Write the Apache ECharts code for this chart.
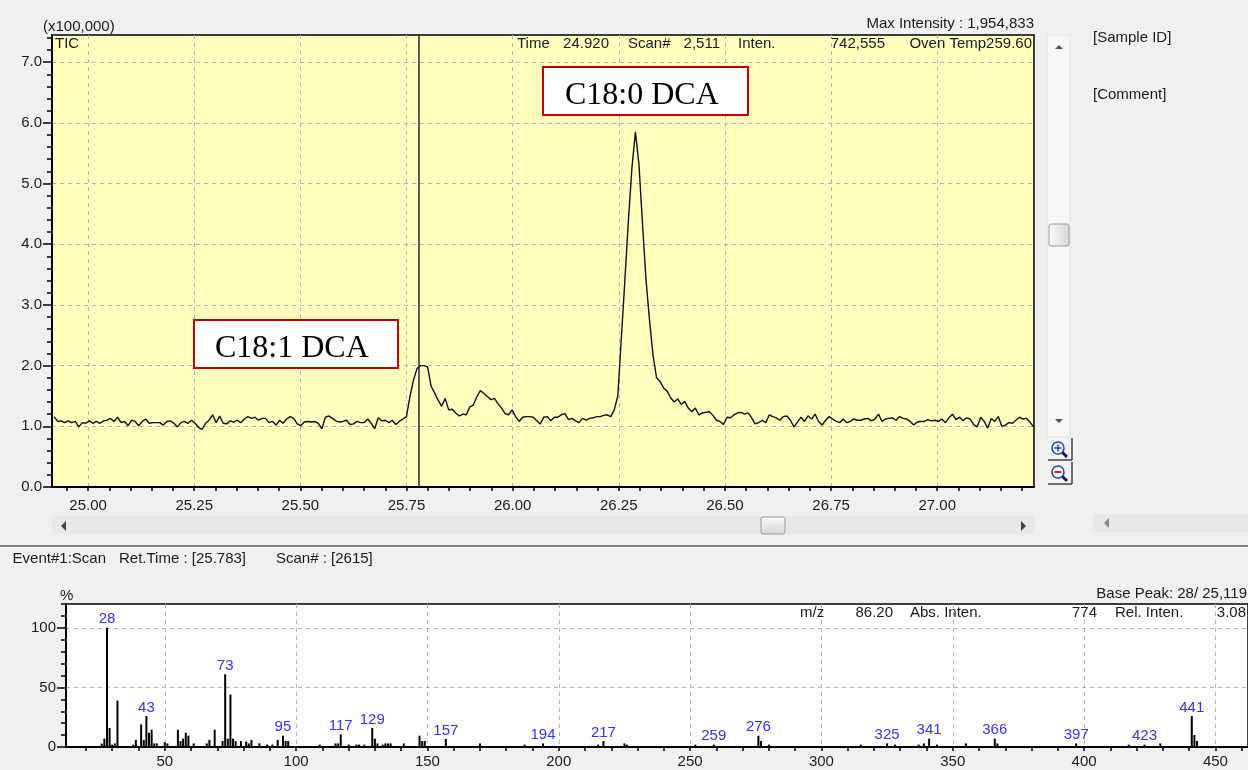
<!DOCTYPE html>
<html>
<head>
<meta charset="utf-8">
<script src="https://cdn.jsdelivr.net/npm/echarts@6/dist/echarts.min.js"></script>
<style>
  html, body { margin: 0; padding: 0; background: #f0f0f0; }
  #chart { width: 1248px; height: 770px; }
</style>
</head>
<body>
<div id="chart"></div>
<script>
// ---- TIC chromatogram: one reading per scan, intensity in units of 100,000 ----
const ticFirstScan = 2511;
const ticFirstTime = 24.920;       // min, retention time of ticFirstScan
const ticScanInterval = 0.008298;  // min between scans
const ticIntensity = [
  1.16, 1.08, 1.09, 1.06, 1.09, 1.06, 1.08, 0.99, 1.06, 1.05,
  1.09, 1.05, 1.08, 1.05, 1.09, 1.10, 1.13, 1.08, 1.15, 1.06,
  1.08, 1.01, 1.10, 1.08, 1.01, 1.08, 1.12, 1.05, 1.06, 1.06,
  1.06, 1.02, 1.08, 1.09, 1.05, 0.99, 1.06, 1.08, 1.05, 1.10,
  1.05, 0.98, 0.95, 1.05, 1.10, 1.19, 1.06, 1.17, 1.05, 1.04,
  1.09, 1.07, 1.10, 1.06, 1.12, 1.16, 1.13, 1.15, 1.10, 1.13,
  1.13, 1.06, 1.08, 1.02, 1.10, 1.05, 1.12, 1.16, 1.13, 1.04,
  1.01, 1.07, 1.08, 1.07, 1.08, 1.05, 0.96, 1.15, 1.17, 1.13,
  1.09, 1.07, 1.08, 1.10, 1.03, 1.04, 1.08, 1.06, 1.06, 1.12,
  1.05, 0.96, 1.14, 1.09, 1.10, 1.06, 1.10, 1.03, 1.08, 1.12,
  1.16, 1.49, 1.76, 1.95, 2.00, 2.00, 1.98, 1.66, 1.55, 1.43,
  1.33, 1.46, 1.27, 1.28, 1.22, 1.17, 1.20, 1.19, 1.32, 1.35,
  1.49, 1.59, 1.54, 1.49, 1.44, 1.46, 1.37, 1.30, 1.21, 1.19,
  1.27, 1.16, 1.08, 1.15, 1.16, 1.16, 1.15, 1.09, 1.04, 1.15,
  1.16, 1.09, 1.15, 1.15, 1.19, 1.21, 1.11, 1.13, 1.09, 1.06,
  1.13, 1.10, 1.13, 1.14, 1.16, 1.16, 1.18, 1.19, 1.16, 1.27,
  1.50, 2.45, 3.40, 4.38, 5.25, 5.85, 5.32, 4.35, 3.42, 2.75,
  2.17, 1.80, 1.74, 1.63, 1.58, 1.47, 1.40, 1.45, 1.36, 1.41,
  1.30, 1.24, 1.30, 1.19, 1.22, 1.23, 1.24, 1.18, 1.10, 1.08,
  1.03, 1.15, 1.14, 1.19, 1.22, 1.23, 1.20, 1.22, 1.14, 1.04,
  1.06, 1.10, 1.06, 1.19, 1.16, 1.14, 1.10, 1.16, 1.17, 1.10,
  0.99, 1.07, 1.15, 1.08, 1.17, 1.12, 1.20, 1.08, 1.02, 1.10,
  1.16, 1.12, 1.08, 1.06, 1.12, 1.06, 1.08, 1.12, 1.10, 1.10,
  1.12, 1.13, 1.09, 1.12, 1.20, 1.08, 1.12, 1.13, 1.14, 1.10,
  1.16, 1.13, 1.12, 1.08, 1.02, 1.07, 1.08, 1.08, 1.11, 1.09,
  1.10, 1.08, 1.12, 1.06, 1.14, 1.20, 1.11, 1.15, 1.09, 1.14,
  1.12, 1.03, 0.99, 1.15, 1.08, 0.97, 1.13, 1.08, 1.16, 1.00,
  1.02, 1.06, 1.05, 1.10, 1.15, 1.12, 1.13, 1.07, 0.99
];
const ticTimeTicks = [25.00, 25.25, 25.50, 25.75, 26.00, 26.25, 26.50, 26.75, 27.00];
const ticIntensityTicks = [0, 1, 2, 3, 4, 5, 6, 7];
const cursorTime = 25.783;
const cursorScan = 2615;

// ---- Mass spectrum at the cursor scan: m/z and relative intensity (%) ----
const specMz = [
  26, 27, 28, 29, 30, 31, 32, 38, 39, 41, 42, 43, 44, 45, 46, 47, 50, 51,
  55, 56, 57, 58, 59, 61, 66, 67, 69, 72, 73, 74, 75, 76, 77, 79, 81, 82, 83,
  86, 89, 91, 93, 95, 96, 97, 109, 115, 116, 117, 120, 123, 124, 126,
  129, 130, 131, 133, 134, 135, 136, 141, 147, 148, 149, 157, 170, 187,
  194, 215, 217, 225, 226, 252, 259, 276, 277, 280, 315, 325, 328, 337,
  339, 341, 344, 355, 366, 367, 397, 417, 423, 429, 441, 442, 443
];
const specRel = [
  2.8, 7, 100, 16, 2, 3, 39, 2, 6, 19, 6, 26, 12, 14.5, 3, 3, 4, 3,
  14.5, 5, 7, 12, 9.5, 3, 3, 6, 14.5, 5, 61, 7, 44, 7, 5, 5, 4.5, 3, 6,
  3.08, 2, 2, 6, 9.5, 5, 5, 2, 3, 3, 10.6, 2, 2, 2, 2,
  16, 7, 3, 2, 3, 3, 3, 3, 9.5, 5, 5, 6.7, 3, 2,
  3, 2, 5, 3, 2, 2, 2, 9.5, 5, 2, 2, 3, 2, 2,
  3, 7, 2, 3, 7, 3, 3, 2, 2, 3, 26, 10, 5
];
const specLabeledMz = [28, 43, 73, 95, 117, 129, 157, 194, 217, 259, 276, 325, 341, 366, 397, 423, 441];
const specMzTicks = [50, 100, 150, 200, 250, 300, 350, 400, 450];
const specRelTicks = [0, 50, 100];

// ---- view ranges ----
const T_MIN = 24.915, T_MAX = 27.228;
const I_MAX = 7.447;
const MZ_MIN = 12.4, MZ_MAX = 462.4;
const REL_MAX = 120;

const FONT = '"Liberation Sans", Arial, sans-serif';
const INK = '#1a1a1a';
const dashed = { type: [4, 4], color: '#b3b3b3', width: 1 };

function steps(from, to, step, digits) {
  const out = [];
  for (let k = 0; from + k * step <= to + 1e-9; k++) {
    out.push(+(from + k * step).toFixed(digits));
  }
  return out;
}
const ticMinorTime = steps(24.95, 27.20, 0.05, 2);
const ticMinorInt = steps(0.2, 7.4, 0.2, 1);
const specMinorMz = steps(20, 460, 10, 0);
const specMinorRel = steps(10, 120, 10, 0);

const ticData = ticIntensity.map((v, i) => [ticFirstTime + i * ticScanInterval, v]);
const specData = specMz.map((m, i) => {
  const item = { value: [m, specRel[i]] };
  if (specLabeledMz.indexOf(m) >= 0) {
    item.label = {
      show: true, position: 'top', distance: 1,
      color: '#3333f2', fontSize: 15, fontFamily: FONT,
      formatter: p => String(p.value[0])
    };
  }
  return item;
});

function minorAxis(grid, dim, min, max, ticks, len) {
  return {
    gridIndex: grid, type: 'value', min: min, max: max,
    position: dim === 'x' ? 'bottom' : 'left',
    axisLine: { show: true, onZero: false, lineStyle: { color: '#000', width: 2 } },
    axisTick: { show: true, length: len, customValues: ticks, lineStyle: { color: '#000', width: 1.5 } },
    axisLabel: { show: false },
    splitLine: { show: false }
  };
}
function majorAxis(grid, dim, min, max, ticks, tickLen, fmt, margin) {
  return {
    gridIndex: grid, type: 'value', min: min, max: max,
    position: dim === 'x' ? 'bottom' : 'left',
    axisLine: { show: false, onZero: false },
    axisTick: { show: tickLen > 0, length: tickLen, customValues: ticks, lineStyle: { color: '#000', width: 1.5 } },
    axisLabel: { show: true, customValues: ticks, formatter: fmt, color: INK, fontSize: 15, fontFamily: FONT, margin: margin },
    splitLine: { show: true, lineStyle: dashed }
  };
}

function txt(text, x, y, align, extra) {
  return {
    type: 'text', z: 100, silent: true,
    style: Object.assign({
      text: text, x: x, y: y, fill: INK,
      font: '15px ' + FONT,
      align: align || 'left', textAlign: align || 'left',
      verticalAlign: 'middle', textVerticalAlign: 'middle'
    }, extra || {})
  };
}
function box(x, y, w, h, fill, stroke, lw, r) {
  return { type: 'rect', z: 90, silent: true,
    shape: { x: x, y: y, width: w, height: h, r: r || 0 },
    style: { fill: fill, stroke: stroke || null, lineWidth: lw || 1 } };
}
function tri(points, fill) {
  return { type: 'polygon', z: 95, silent: true, shape: { points: points }, style: { fill: fill || '#333' } };
}
function seg(x1, y1, x2, y2, color, w, z) {
  return { type: 'line', z: z || 96, silent: true, shape: { x1: x1, y1: y1, x2: x2, y2: y2 },
    style: { stroke: color, lineWidth: w } };
}
const thumbFill = new echarts.graphic.LinearGradient(0, 0, 0, 1, [
  { offset: 0, color: '#fbfbfb' }, { offset: 1, color: '#d6d6d6' }
]);
const thumbFillH = new echarts.graphic.LinearGradient(0, 0, 1, 0, [
  { offset: 0, color: '#fbfbfb' }, { offset: 1, color: '#d6d6d6' }
]);

// zoom-in / zoom-out buttons beside the chromatogram
function magnifier(cx, cy, minus) {
  const g = [];
  g.push(box(cx - 10, cy - 10, 24, 22, '#f4f4f4', null));
  g.push(seg(cx + 14, cy - 10, cx + 14, cy + 12, '#404040', 1.5));
  g.push(seg(cx - 10, cy + 12, cx + 14, cy + 12, '#404040', 1.5));
  g.push({ type: 'circle', z: 97, silent: true, shape: { cx: cx, cy: cy, r: 6 },
    style: { fill: '#ffffff', stroke: '#2a3fc8', lineWidth: 1.6 } });
  g.push(seg(cx + 4.5, cy + 4.5, cx + 9, cy + 9, '#14206e', 3, 98));
  if (minus) {
    g.push(seg(cx - 3.5, cy, cx + 3.5, cy, '#e02222', 2, 99));
  } else {
    g.push(seg(cx - 3.5, cy, cx + 3.5, cy, '#2a3fc8', 1.6, 99));
    g.push(seg(cx, cy - 3.5, cx, cy + 3.5, '#2a3fc8', 1.6, 99));
  }
  return g;
}

const graphics = [
  // window chrome: scroll bars, zoom buttons, panel divider
  box(1047, 35, 23, 402, '#f6f6f6', '#e2e2e2'),
  tri([[1055, 49], [1063, 49], [1059, 45]], '#555'),
  tri([[1055, 419], [1063, 419], [1059, 423]], '#555'),
  box(1049, 224, 20, 22, thumbFillH, '#9a9a9a', 1, 2),
  ...magnifier(1058, 448, false),
  ...magnifier(1058, 472, true),
  box(52, 516, 982, 18, '#e8e8e8', null),
  tri([[66, 521], [66, 531], [61, 526]], '#444'),
  tri([[1021, 521], [1021, 531], [1026, 526]], '#444'),
  box(761, 517, 24, 17, thumbFill, '#9a9a9a', 1, 2),
  box(1093, 514, 160, 18, '#e8e8e8', null),
  tri([[1109, 518], [1109, 528], [1104, 523]], '#888'),
  box(0, 545, 1248, 2, '#7c7c7c', null),
  box(0, 547, 1248, 1, '#ffffff', null),

  // chromatogram header
  txt('(x100,000)', 43, 27),
  txt('Max Intensity : 1,954,833', 1034, 24, 'right'),
  txt('TIC', 55, 44),
  txt('Time', 517, 44),
  txt('24.920', 609, 44, 'right'),
  txt('Scan#', 628, 44),
  txt('2,511', 720, 44, 'right'),
  txt('Inten.', 738, 44),
  txt('742,555', 885, 44, 'right'),
  txt('Oven Temp259.60', 1032, 44, 'right'),
  txt('[Sample ID]', 1093, 38),
  txt('[Comment]', 1093, 95),

  // peak annotations
  box(543, 67, 205, 48, '#ffffff', '#c00000', 2),
  txt('C18:0 DCA', 565, 96, 'left', { font: '32px "Liberation Serif", "Times New Roman", serif', fill: '#000' }),
  box(194, 320, 204, 48, '#ffffff', '#c00000', 2),
  txt('C18:1 DCA', 215, 349, 'left', { font: '32px "Liberation Serif", "Times New Roman", serif', fill: '#000' }),

  // spectrum header
  txt('Event#1:Scan', 106, 559, 'right'),
  txt('Ret.Time : [' + cursorTime.toFixed(3) + ']', 119, 559),
  txt('Scan# : [' + cursorScan + ']', 276, 559),
  txt('%', 60, 596),
  txt('Base Peak: 28/ 25,119', 1247, 594, 'right'),
  txt('m/z', 800, 613),
  txt('86.20', 893, 613, 'right'),
  txt('Abs. Inten.', 910, 613),
  txt('774', 1097, 613, 'right'),
  txt('Rel. Inten.', 1115, 613),
  txt('3.08', 1246, 613, 'right')
];

const chart = echarts.init(document.getElementById('chart'), null, { renderer: 'canvas' });
chart.setOption({
  animation: false,
  backgroundColor: '#f0f0f0',
  grid: [
    { left: 52, top: 35, width: 982, height: 452, show: true,
      backgroundColor: '#ffffc0', borderColor: '#000', borderWidth: 1.5 },
    { left: 66, top: 604, width: 1200, height: 143, show: true,
      backgroundColor: '#ffffff', borderColor: '#000', borderWidth: 1.5 }
  ],
  xAxis: [
    minorAxis(0, 'x', T_MIN, T_MAX, ticMinorTime, 4),
    majorAxis(0, 'x', T_MIN, T_MAX, ticTimeTicks, 0, v => v.toFixed(2), 11),
    minorAxis(1, 'x', MZ_MIN, MZ_MAX, specMinorMz, 4),
    majorAxis(1, 'x', MZ_MIN, MZ_MAX, specMzTicks, 0, v => String(v), 7)
  ],
  yAxis: [
    minorAxis(0, 'y', 0, I_MAX, ticMinorInt, 5),
    majorAxis(0, 'y', 0, I_MAX, ticIntensityTicks, 9, v => v.toFixed(1), 10),
    minorAxis(1, 'y', 0, REL_MAX, specMinorRel, 5),
    majorAxis(1, 'y', 0, REL_MAX, specRelTicks, 9, v => String(v), 10)
  ],
  series: [
    {
      name: 'TIC', type: 'line', xAxisIndex: 0, yAxisIndex: 0,
      data: ticData, showSymbol: false, symbol: 'none', clip: true,
      lineStyle: { color: '#111', width: 1.4 },
      markLine: {
        silent: true, symbol: ['none', 'none'], label: { show: false },
        lineStyle: { color: '#2a2a36', width: 1.5, type: 'solid' },
        data: [{ xAxis: cursorTime }]
      }
    },
    {
      name: 'Spectrum', type: 'bar', xAxisIndex: 2, yAxisIndex: 2,
      data: specData, barWidth: 2, clip: true,
      itemStyle: { color: '#000' }
    }
  ],
  graphic: graphics
});
</script>
</body>
</html>
